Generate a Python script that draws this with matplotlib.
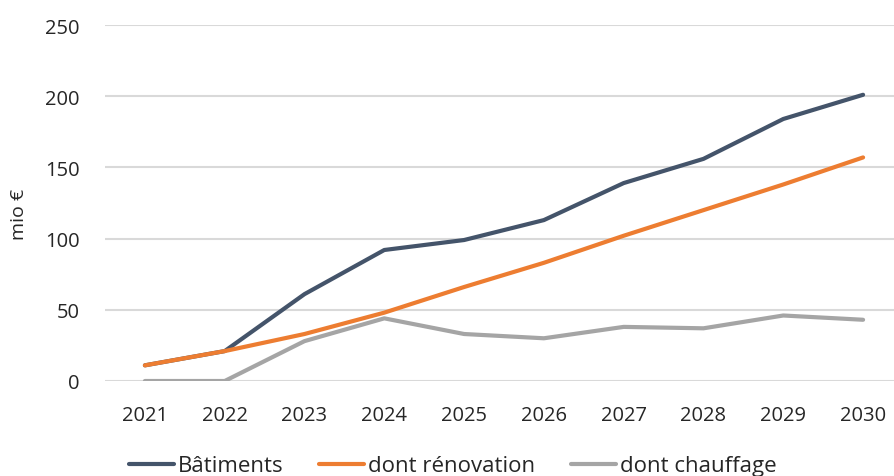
import matplotlib
matplotlib.use("Agg")
import matplotlib.pyplot as plt

years = ["2021", "2022", "2023", "2024", "2025", "2026", "2027", "2028", "2029", "2030"]
batiments = [11, 21, 61, 92, 99, 113, 139, 156, 184, 201]
renovation = [11, 21, 33, 48, 66, 83, 102, 120, 138, 157]
chauffage = [0, 0, 28, 44, 33, 30, 38, 37, 46, 43]
series_names = ["Bâtiments", "dont rénovation", "dont chauffage"]
colors = ["#44546A", "#ED7D31", "#A5A5A5"]

plt.rcParams['font.family'] = ['Open Sans', 'DejaVu Sans']

W, H = 895, 477
fig = plt.figure(figsize=(W / 100, H / 100), dpi=100)
left, right, top, bottom = 105, 895, 26, 382
ax = fig.add_axes([left / W, (H - bottom) / H, (right - left) / W, (bottom - top) / H])

x = list(range(len(years)))
for vals, name, c in zip([batiments, renovation, chauffage], series_names, colors):
    ax.plot(x, vals, color=c, lw=3.0, label=name, solid_capstyle='round', zorder=3)

ax.set_ylim(0, 250)
ax.set_xlim(-0.5, 9.4)
ax.set_yticks([0, 50, 100, 150, 200, 250])
ax.set_xticks(x)
ax.set_xticklabels(years)
ax.grid(axis='y', color='#D9D9D9', lw=1.5)
ax.set_axisbelow(True)
for s in ax.spines.values():
    s.set_visible(False)
ax.tick_params(length=0, labelsize=14.5, colors='#262626')
ax.tick_params(axis='y', pad=18)
ax.tick_params(axis='x', pad=17)
ax.set_ylabel("mio €", fontsize=14, color='#262626')
ax.yaxis.set_label_coords(-0.098, 0.47)

fig.legend(loc='center', bbox_to_anchor=(453 / W, 1 - 467 / H), ncol=3, frameon=False,
           fontsize=16, handlelength=2.0, handletextpad=0.2, columnspacing=1.6,
           labelcolor='#262626')

fig.savefig("out.png", dpi=100)
